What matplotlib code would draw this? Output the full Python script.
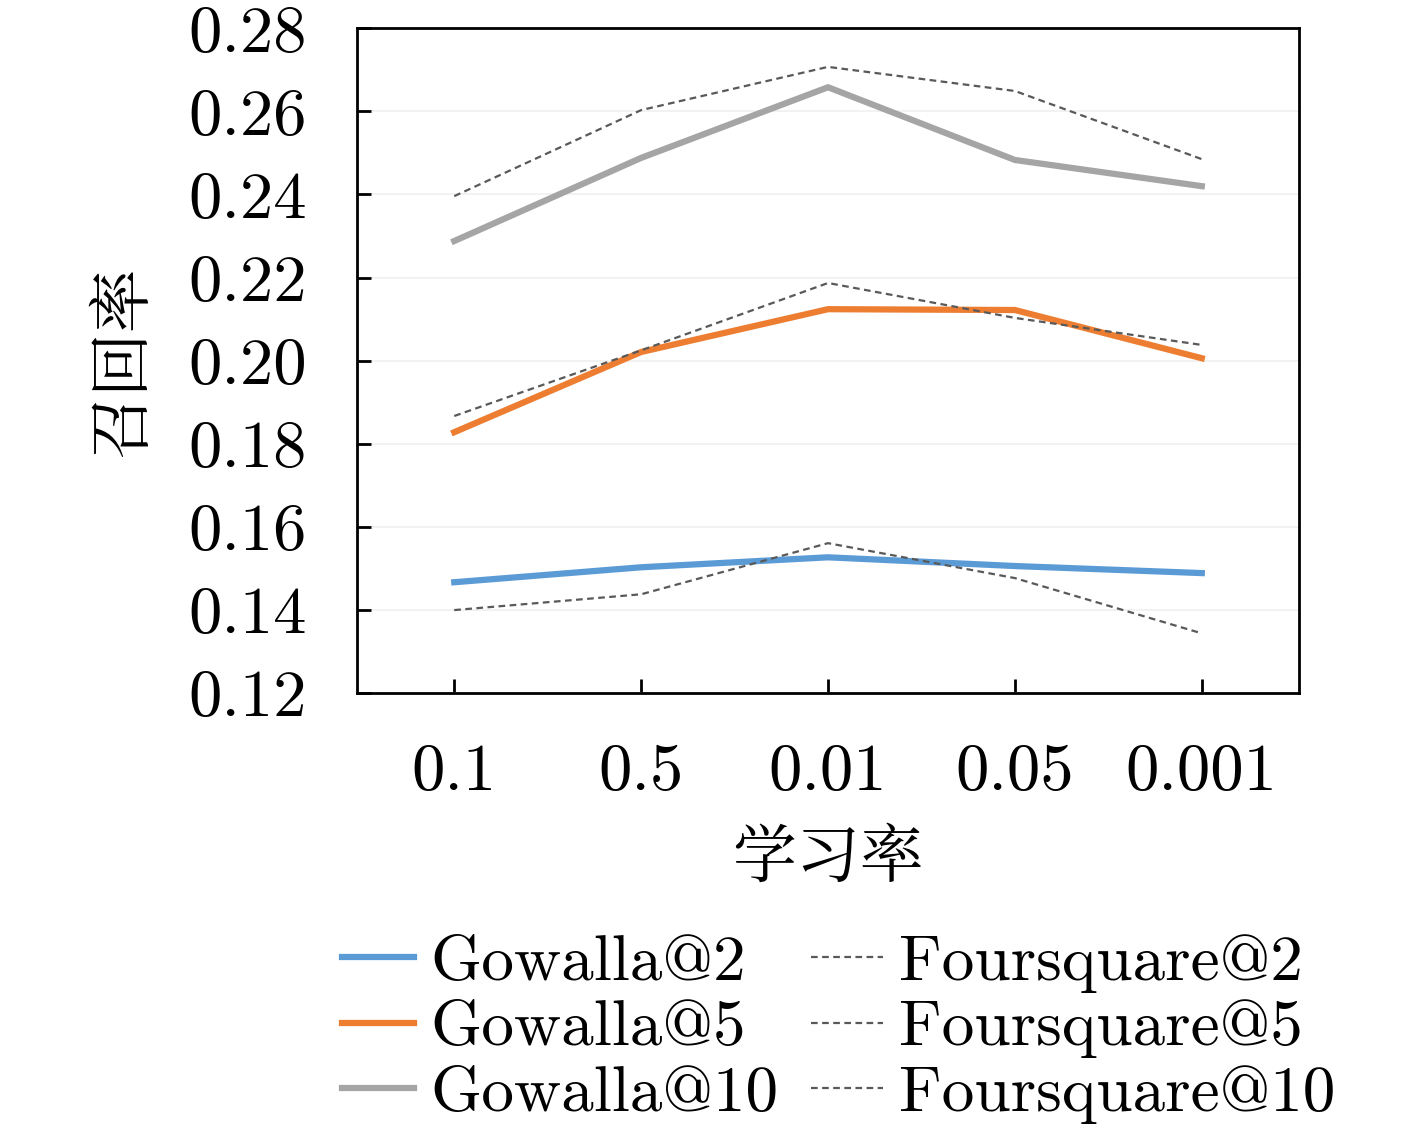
import matplotlib
matplotlib.use("Agg")
import matplotlib.pyplot as plt

# 学习率 (x 轴类别)
learning_rates = ["0.1", "0.5", "0.01", "0.05", "0.001"]

gowalla_2 = [0.1467, 0.1503, 0.1527, 0.1506, 0.1489]
gowalla_5 = [0.1828, 0.2021, 0.2124, 0.2122, 0.2006]
gowalla_10 = [0.2288, 0.2488, 0.2658, 0.2483, 0.2420]
foursquare_2 = [0.1400, 0.1438, 0.1561, 0.1477, 0.1344]
foursquare_5 = [0.1867, 0.2025, 0.2187, 0.2103, 0.2038]
foursquare_10 = [0.2396, 0.2603, 0.2707, 0.2649, 0.2485]

y_ticks = [0.12, 0.14, 0.16, 0.18, 0.20, 0.22, 0.24, 0.26, 0.28]

plt.rcParams['font.family'] = ['cmr10', 'Noto Serif CJK SC', 'Noto Sans CJK SC', 'DejaVu Sans']
plt.rcParams['axes.formatter.use_mathtext'] = True

fig = plt.figure(figsize=(14.17, 11.29), dpi=100)
ax = fig.add_axes([0.252, 0.386, 0.6647, 0.589])

x = range(len(learning_rates))
ax.plot(x, gowalla_2, color='#5B9BD5', lw=4.5, label='Gowalla@2', zorder=3)
ax.plot(x, gowalla_5, color='#ED7D31', lw=4.5, label='Gowalla@5', zorder=3)
ax.plot(x, gowalla_10, color='#A5A5A5', lw=4.5, label='Gowalla@10', zorder=3)
ax.plot(x, foursquare_2, color='#595959', lw=1.6, ls=(0, (3, 2)), label='Foursquare@2', zorder=4)
ax.plot(x, foursquare_5, color='#595959', lw=1.6, ls=(0, (3, 2)), label='Foursquare@5', zorder=4)
ax.plot(x, foursquare_10, color='#595959', lw=1.6, ls=(0, (3, 2)), label='Foursquare@10', zorder=4)

ax.set_xlim(-0.52, 4.52)
ax.set_ylim(0.12, 0.28)
ax.set_yticks(y_ticks)
ax.set_yticklabels([f"{v:.2f}" for v in y_ticks])
ax.set_xticks(list(x))
ax.set_xticklabels(learning_rates)
ax.grid(axis='y', color='#f0f0f0', lw=1.2, zorder=0)

ax.tick_params(axis='both', direction='in', length=10, width=2, labelsize=48)
ax.tick_params(axis='x', pad=36)
ax.tick_params(axis='y', pad=36)
for s in ax.spines.values():
    s.set_linewidth(2)

ax.set_xlabel("学习率", fontsize=46, family=['Noto Serif CJK SC', 'Noto Sans CJK SC'], labelpad=16)
ax.set_ylabel("召回率", fontsize=46, family=['Noto Serif CJK SC', 'Noto Sans CJK SC'], labelpad=22)

fig.legend(*ax.get_legend_handles_labels(), ncol=2, loc='center',
           bbox_to_anchor=(0.592, 0.0885), frameon=False,
           fontsize=47, handlelength=1.1, handletextpad=0.25, columnspacing=0.5,
           labelspacing=0.1, borderpad=0)

fig.savefig("out.png", dpi=100)
